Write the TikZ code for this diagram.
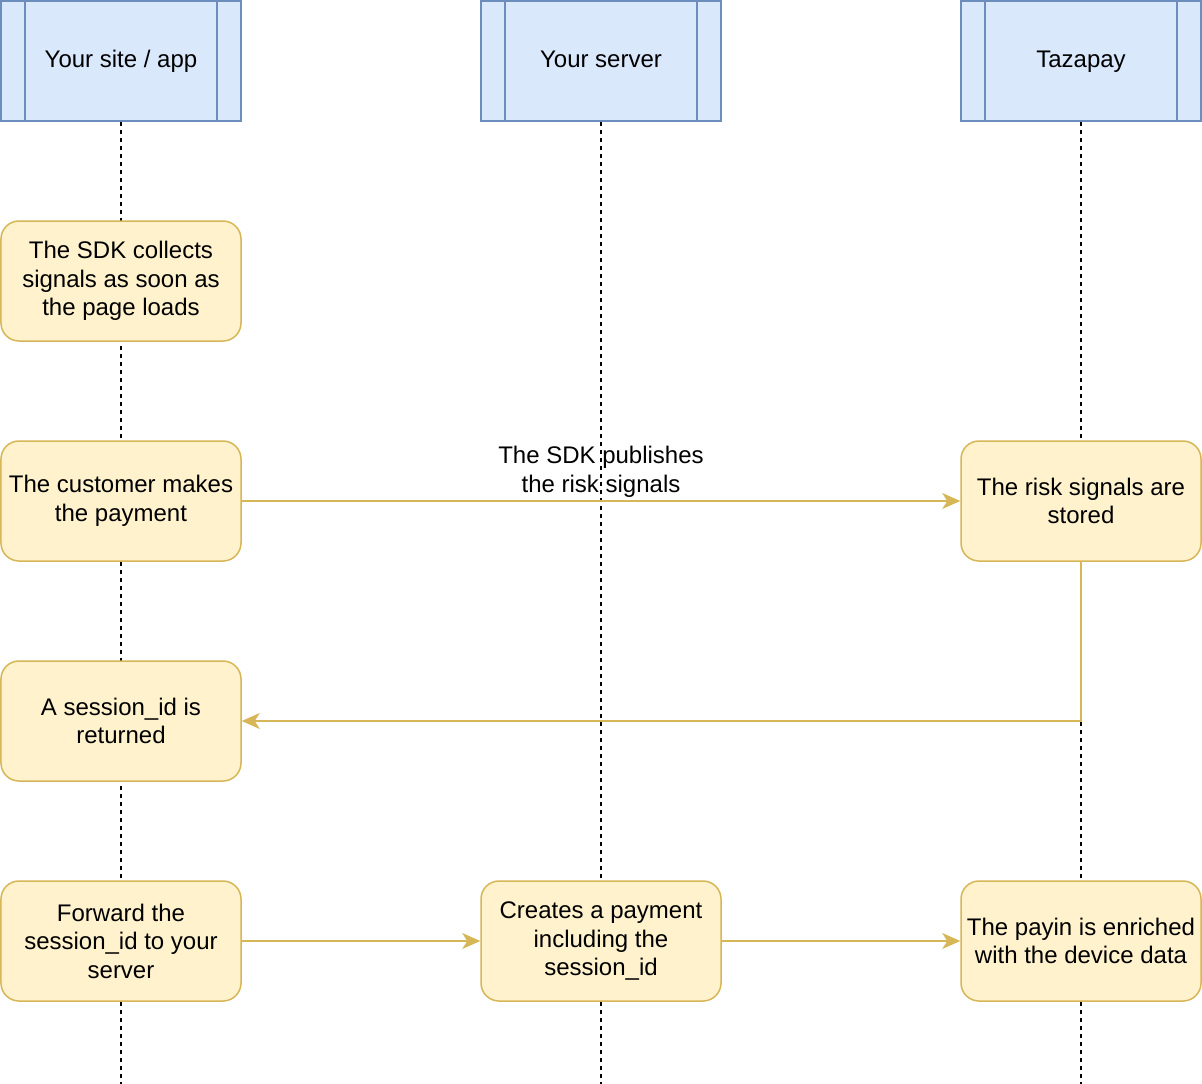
\documentclass[tikz,border=0pt]{standalone}
\usepackage{fontspec}
\setmainfont{Liberation Sans}
\usetikzlibrary{arrows.meta}
\definecolor{hfill}{HTML}{DAE8FC}
\definecolor{hdraw}{HTML}{6C8EBF}
\definecolor{bfill}{HTML}{FFF2CC}
\definecolor{bdraw}{HTML}{D6B656}
\begin{document}
\begin{tikzpicture}[x=1pt,y=-1pt,
  every node/.style={font=\fontsize{24}{28.5}\selectfont, align=center, inner sep=0pt},
  header/.style={draw=hdraw, fill=hfill, line width=1.5pt, minimum width=240pt, minimum height=120pt,
    text height=17pt, text depth=5pt,
    path picture={\draw[hdraw, line width=1.5pt]
      ([xshift=24pt]path picture bounding box.north west) -- ([xshift=24pt]path picture bounding box.south west)
      ([xshift=-24pt]path picture bounding box.north east) -- ([xshift=-24pt]path picture bounding box.south east);}},
  stepbox/.style={draw=bdraw, fill=bfill, line width=1.5pt, rounded corners=18pt, minimum width=240pt, minimum height=120pt},
  lifeline/.style={draw=black, line width=1.5pt, dash pattern=on 4pt off 4pt},
  msg/.style={draw=bdraw, line width=1.5pt, -{Stealth[length=18pt, width=16pt, inset=5pt]}}
]
\useasboundingbox (-1,-1) rectangle (1201,1083);
\node[header] (h1) at (120,60) {Your site / app};
\node[header] (h2) at (600,60) {Your server};
\node[header] (h3) at (1080,60) {Tazapay};
\coordinate (e1) at (120,1084);
\coordinate (e2) at (600,1084);
\coordinate (e3) at (1080,1084);
\draw[lifeline] (h1.south) -- (e1);
\draw[lifeline] (h2.south) -- (e2);
\draw[lifeline] (h3.south) -- (e3);

\node[stepbox] (b1) at (120,280) {The SDK collects\\signals as soon as\\the page loads};
\node[stepbox] (b2) at (120,500) {The customer makes\\the payment};
\node[stepbox] (b3) at (1080,500) {The risk signals are\\stored};
\node[stepbox] (b4) at (120,720) {A session\_id is\\returned};
\node[stepbox] (b5) at (120,940) {Forward the\\session\_id to your\\server};
\node[stepbox] (b6) at (600,940) {Creates a payment\\including the\\session\_id};
\node[stepbox] (b7) at (1080,940) {The payin is enriched\\with the device data};

\draw[msg] (b2.east) -- node[above=3pt] {The SDK publishes\\the risk signals} (b3.west);
\draw[msg] (b3.south) |- (b4.east);
\draw[msg] (b5.east) -- (b6.west);
\draw[msg] (b6.east) -- (b7.west);
\end{tikzpicture}
\end{document}
